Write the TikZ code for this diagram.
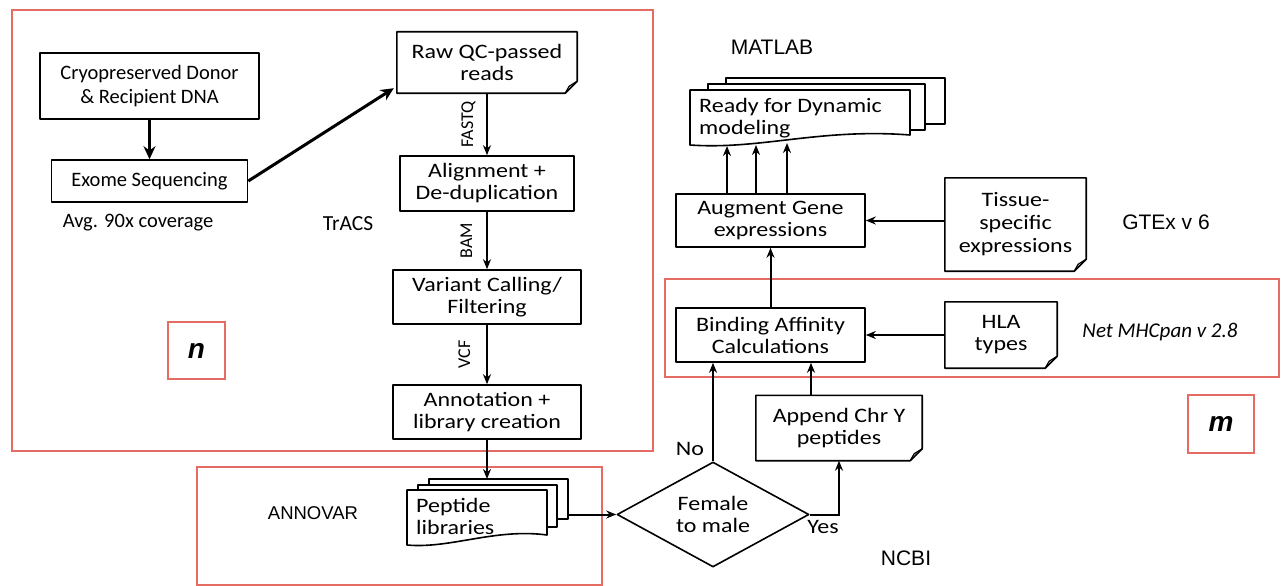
\documentclass[tikz,border=0pt]{standalone}
\usepackage{fontspec}
\setmainfont{Carlito}
\newfontfamily\widefont{Carlito}[FakeStretch=1.17]
\newfontfamily\labfont{Liberation Sans}
\usetikzlibrary{shapes.geometric,arrows.meta,calc}
\definecolor{redbox}{RGB}{228,108,98}
\newcommand\docshape[1]{%
  \draw[boxline] (#1.north west) -- (#1.north east) -- ($(#1.south east)+(0,-12)$) -- ($(#1.south east)+(-12,0)$) -- (#1.south west) -- cycle;
  \draw[line width=1.2pt, line join=round] ($(#1.south east)+(0,-12)$) -- ($(#1.south east)+(-8,-7)$) -- ($(#1.south east)+(-12,0)$);}
\begin{document}
\begin{tikzpicture}[x=1pt,y=-1pt,
  boxline/.style={line width=1.6pt, line join=round},
  txt/.style={font=\fontsize{20.5}{24.5}\selectfont, align=center, inner sep=0pt},
  wtxt/.style={font=\widefont\fontsize{20.5}{22}\selectfont, align=center, inner sep=0pt},
  box/.style={txt, draw, boxline},
  wbox/.style={wtxt, draw, boxline},
  doc/.style={wtxt, draw=none},
  arr/.style={line width=2pt, -{Stealth[length=10pt,width=8pt]}},
  bigarr/.style={line width=3pt, -{Stealth[length=13pt,width=12pt]}},
  redframe/.style={draw=redbox, line width=1.8pt},
  lab/.style={font=\labfont\fontsize{21}{24}\selectfont, inner sep=0pt},
  vlab/.style={font=\fontsize{18}{20}\selectfont, rotate=90, anchor=base, inner sep=0pt},
  letter/.style={redframe, font=\labfont\bfseries\itshape\fontsize{28}{30}\selectfont, inner sep=0pt}
]
\useasboundingbox (0,0) rectangle (1285,586);

% red frames
\draw[redframe] (12,10) rectangle (653,451);
\draw[redframe] (197,467) rectangle (602,585);
\draw[redframe] (665,279) rectangle (1279,377);
\node[letter, minimum width=57pt, minimum height=57pt] (nlab) at (196.5,350.5) {n};
\node[letter, minimum width=66pt, minimum height=58pt] (mlab) at (1221,424) {m};

% left column
\node[box, minimum width=219pt, minimum height=66pt] (cryo) at (149.5,86) {Cryopreserved Donor\\\& Recipient DNA};
\node[box, minimum width=196pt, minimum height=42pt] (exome) at (149.5,181) {Exome Sequencing};
\node[txt] (avg) at (138,223) {Avg. 90x coverage};
\node[txt, font=\fontsize{21.5}{24}\selectfont] (tracs) at (348,224) {TrACS};

\node[doc, minimum width=180pt, minimum height=61pt] (raw) at (487,62.5) {Raw QC-passed\\reads};
\docshape{raw}
\node[wbox, minimum width=174pt, minimum height=55pt] (align) at (487,183.5) {Alignment +\\De-duplication};
\node[wbox, minimum width=188pt, minimum height=54pt] (variant) at (487,297) {Variant Calling/\\Filtering};
\node[wbox, minimum width=188pt, minimum height=54pt] (annot) at (487,412) {Annotation +\\library creation};

% peptide libraries (multi-document)
\draw[boxline] (429,485) -- (429,479) -- (568,479) -- (568,519) -- (557,519);
\draw[boxline] (418,490) -- (418,485) -- (557,485) -- (557,527) -- (547,527);
\draw[boxline] (407,490) -- (547,490) -- (547,535) .. controls (495,528) and (450,549) .. (407,545) -- cycle;
\node[wtxt, align=left, anchor=west] (pep) at (416,516) {Peptide\\libraries};
\coordinate (peptop) at (487,479);
\coordinate (pepright) at (568,514.5);
\node[lab, font=\labfont\fontsize{18.5}{22}\selectfont] (annovar) at (313,513) {ANNOVAR};

% decision
\node[diamond, draw, boxline, wtxt, minimum width=192pt, minimum height=105pt, aspect=1.83] (fm) at (713,514.5) {Female\\to male};
\node[wtxt] (no) at (690,449) {No};
\node[wtxt] (yes) at (823,527) {Yes};
\node[lab] (ncbi) at (906,558) {NCBI};

\node[doc, minimum width=166pt, minimum height=65pt] (append) at (839,428) {Append Chr Y\\peptides};
\docshape{append}

% right column
\node[wbox, minimum width=189pt, minimum height=54pt] (binding) at (770.5,335) {Binding Affinity\\Calculations};
\node[doc, minimum width=112pt, minimum height=66pt] (hla) at (1001,335) {HLA\\types};
\docshape{hla}
\node[txt, font=\itshape\fontsize{21}{24.5}\selectfont] (netmhc) at (1160,332) {Net MHCpan v 2.8};

\node[wbox, minimum width=189pt, minimum height=53pt] (augment) at (770.5,220.5) {Augment Gene\\expressions};
\node[doc, minimum width=141pt, minimum height=93pt, font=\widefont\fontsize{20.5}{23}\selectfont] (tissue) at (1015.5,224.5) {Tissue-\\specific\\expressions};
\docshape{tissue}
\node[lab] (gtex) at (1166,222) {GTEx v 6};

% ready for dynamic modeling (multi-document)
\draw[boxline] (726,84) -- (726,78) -- (945,78) -- (945,124) -- (925,124);
\draw[boxline] (708,90) -- (708,84) -- (925,84) -- (925,130) -- (910,130);
\draw[boxline] (690,90) -- (910,90) -- (910,135) .. controls (820,128) and (760,150) .. (690,145) -- cycle;
\node[wtxt, align=left, anchor=west] (ready) at (699,118) {Ready for Dynamic\\modeling};
\coordinate (r1) at (727,146);
\coordinate (r2) at (756,145);
\coordinate (r3) at (787,143);
\node[lab] (matlab) at (772,47) {MATLAB};

% connectors
\draw[bigarr] (cryo.south) -- (cryo.south |- exome.north);
\draw[bigarr] (exome.east) -- ($(raw.south west)+(-3,-5)$);
\draw[arr] (raw.south) -- (align.north);
\node[vlab] (fastq) at ($(raw.south)!0.5!(align.north)+(-14,0)$) {FASTQ};
\draw[arr] (align.south) -- (variant.north);
\node[vlab] (bam) at ($(align.south)!0.5!(variant.north)+(-15,0)$) {BAM};
\draw[arr] (variant.south) -- (annot.north);
\node[vlab] (vcf) at ($(variant.south)!0.5!(annot.north)+(-17,0)$) {VCF};
\draw[arr] (annot.south) -- (peptop);
\draw[arr] (pepright) -- (fm.west);
\draw[arr] (fm.north) -- (fm.north |- binding.south);
\draw[arr] (fm.east) -| (append.south);
\coordinate (appin) at ($(append.north)+(-28,0)$);
\draw[arr] (appin) -- (appin |- binding.south);
\draw[arr] (hla.west) -- (binding.east);
\draw[arr] (binding.north) -- (augment.south);
\draw[arr] (tissue.west |- augment.east) -- (augment.east);
\draw[arr] (augment.north -| r1) -- (r1);
\draw[arr] (augment.north -| r2) -- (r2);
\draw[arr] (augment.north -| r3) -- (r3);
\end{tikzpicture}
\end{document}
